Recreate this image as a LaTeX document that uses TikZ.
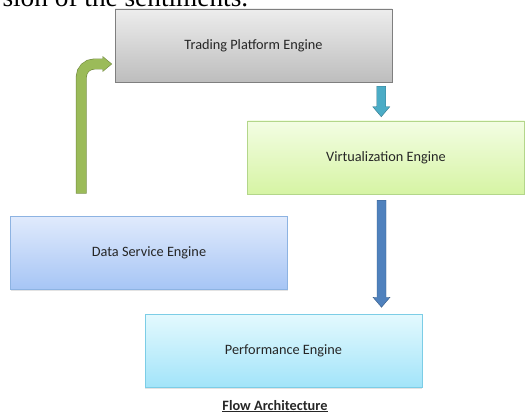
\documentclass[tikz,border=0pt]{standalone}
\usepackage{fontspec}
\setmainfont{Carlito}
\newfontfamily\bodyserif{Liberation Serif}
\usepackage{tikz}
\usetikzlibrary{calc,shadows}

\definecolor{tpeTop}{HTML}{EDEDED}
\definecolor{tpeBot}{HTML}{BDBDBD}
\definecolor{tpeLine}{HTML}{7F7F7F}
\definecolor{veTop}{HTML}{F3FDE3}
\definecolor{veBot}{HTML}{D6F4A4}
\definecolor{veLine}{HTML}{B3D68A}
\definecolor{dseTop}{HTML}{E0EAFC}
\definecolor{dseBot}{HTML}{A6C5F5}
\definecolor{dseLine}{HTML}{8DB3E2}
\definecolor{peTop}{HTML}{E3F9FE}
\definecolor{peBot}{HTML}{A2E4F9}
\definecolor{peLine}{HTML}{7CCDE6}
\definecolor{aquaArrow}{HTML}{4BACC6}
\definecolor{blueArrow}{HTML}{4F81BD}
\definecolor{greenArrow}{HTML}{9BBB59}
\definecolor{greenLine}{HTML}{71893F}

% straight block arrow pointing down, #1 top, #2 tip, #3 colour
\newcommand{\blockdown}[3]{%
  \filldraw[fill=#3,draw=#3!70!black,line width=0.4pt]
    ($(#1)+(-4.5,0)$) -- ($(#2)+(-4.5,-10)$) -- ($(#2)+(-8.5,-10)$) -- (#2)
    -- ($(#2)+(8.5,-10)$) -- ($(#2)+(4.5,-10)$) -- ($(#1)+(4.5,0)$) -- cycle;}

\begin{document}
\begin{tikzpicture}[x=1pt,y=-1pt,
  engine/.style={rectangle,minimum width=277pt,minimum height=73pt,inner sep=0pt,
    line width=0.5pt,text=black!85,font=\fontsize{14.3}{17}\selectfont,
    drop shadow={opacity=0.22,shadow xshift=0.4pt,shadow yshift=-1.4pt}},
  bentshaft/.style={line width=#1,rounded corners=13pt}]
\useasboundingbox (0,0) rectangle (525,414);
\clip (0,0) rectangle (525,414);

\node[anchor=base west,font=\bodyserif\fontsize{27.3}{30}\selectfont] (prev) at (-1,7) {sion of the sentiments.};

\node(tpe)[engine,top color=tpeTop,bottom color=tpeBot,draw=tpeLine] at (253.5,45.5) {Trading Platform Engine};
\node(ve)[engine,top color=veTop,bottom color=veBot,draw=veLine] at (386,157.5) {Virtualization Engine};
\node(dse)[engine,top color=dseTop,bottom color=dseBot,draw=dseLine] at (149,253) {Data Service Engine};
\node(pe)[engine,top color=peTop,bottom color=peBot,draw=peLine] at (283.5,351) {Performance Engine};

\node(title)[anchor=base,font=\fontsize{14.3}{17}\selectfont\bfseries,text=black!85] at (275,410) {\underline{Flow Architecture}};

\coordinate (a1) at ($(tpe.south east)+(-11,4)$);
\coordinate (a2) at ($(a1 |- ve.north)+(0,-4)$);
\coordinate (b1) at ($(ve.south)+(-4.5,6)$);
\coordinate (b2) at ($(b1 |- pe.north)+(0,-7)$);
\coordinate (g1) at ($(dse.north west)+(71,-22.5)$);
\coordinate (g2) at ($(tpe.west)+(-3,18.5)$);

\blockdown{a1}{a2}{aquaArrow}
\blockdown{b1}{b2}{blueArrow}

\draw [bentshaft=10.8pt,greenLine] (g1) |- ($(g2)+(-9,0)$);
\filldraw [fill=greenArrow,draw=greenLine,line width=0.4pt] ($(g2)+(-9,-7.5)$) -- (g2) -- ($(g2)+(-9,7.5)$) -- cycle;
\draw [bentshaft=9.6pt,greenArrow] ($(g1)+(0,-0.6)$) |- ($(g2)+(-8.6,0)$);
\end{tikzpicture}
\end{document}
